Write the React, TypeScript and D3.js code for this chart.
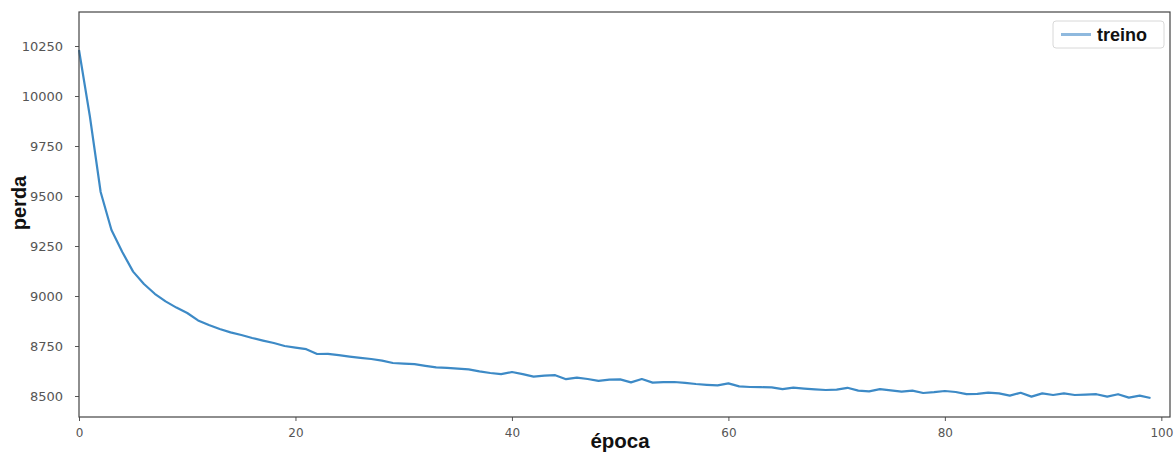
import React, { useEffect, useRef } from "react";
import * as d3 from "d3";

// training loss per epoch
const epochs = d3.range(0, 100);
const treino = [
  10230, 9900, 9520, 9330, 9220, 9122, 9060, 9011, 8973, 8942,
  8915, 8878, 8855, 8835, 8818, 8805, 8790, 8777, 8765, 8750,
  8742, 8734, 8710, 8711, 8704, 8697, 8691, 8685, 8677, 8665,
  8662, 8659, 8651, 8643, 8641, 8637, 8633, 8623, 8615, 8609,
  8620, 8609, 8597, 8602, 8604, 8584, 8592, 8585, 8576, 8582,
  8583, 8568, 8585, 8567, 8569, 8570, 8566, 8560, 8556, 8553,
  8563, 8548, 8545, 8544, 8543, 8534, 8542, 8537, 8533, 8530,
  8532, 8541, 8527, 8523, 8534, 8528, 8522, 8527, 8515, 8519,
  8525, 8520, 8509, 8511, 8517, 8513, 8502, 8516, 8497, 8513,
  8505, 8513, 8505, 8507, 8509, 8497, 8509, 8492, 8502, 8490,
];
const xTicks = [0, 20, 40, 60, 80, 100];
const yTicks = [8500, 8750, 9000, 9250, 9500, 9750, 10000, 10250];
const legendLabel = "treino";

export default function App() {
  const ref = useRef<SVGSVGElement>(null);

  useEffect(() => {
    const svg = d3.select(ref.current);
    svg.selectAll("*").remove();

    const margin = { top: 12, right: 6, bottom: 35, left: 79 };
    const width = 1176, height = 452;

    const x = d3.scaleLinear().domain([0, 100.8]).range([margin.left, width - margin.right]);
    const y = d3.scaleLinear().domain([8395, 10420]).range([height - margin.bottom, margin.top]);

    const g = svg.append("g");

    // line
    const line = d3
      .line<number>()
      .x((d, i) => x(epochs[i]))
      .y((d) => y(d));
    g.append("path")
      .datum(treino)
      .attr("fill", "none")
      .attr("stroke", "#3d8ac6")
      .attr("stroke-width", 2.2)
      .attr("stroke-linejoin", "round")
      .attr("d", line);

    // axes
    const xAxis = g
      .append("g")
      .attr("transform", `translate(0, ${height - margin.bottom})`)
      .call(d3.axisBottom(x).tickValues(xTicks).tickSize(4).tickPadding(7));
    xAxis.select(".domain").remove();
    xAxis.selectAll("text").attr("font-size", 12).attr("fill", "#555");

    const yAxis = g
      .append("g")
      .attr("transform", `translate(${margin.left}, 0)`)
      .call(d3.axisLeft(y).tickValues(yTicks).tickSize(4).tickPadding(12).tickFormat(d3.format("d")));
    yAxis.select(".domain").remove();
    yAxis.selectAll("text").attr("font-size", 13).attr("fill", "#555");

    g.selectAll(".tick line").attr("stroke", "#555");
    g.selectAll(".tick text").attr("font-family", "DejaVu Sans, sans-serif");

    // frame
    g.append("rect")
      .attr("x", margin.left)
      .attr("y", margin.top)
      .attr("width", width - margin.left - margin.right)
      .attr("height", height - margin.top - margin.bottom)
      .attr("fill", "none")
      .attr("stroke", "#444")
      .attr("stroke-width", 1.2);

    // axis labels
    g.append("text")
      .attr("x", 620)
      .attr("y", 448)
      .attr("text-anchor", "middle")
      .attr("font-family", "Liberation Sans, Arial, sans-serif")
      .attr("font-weight", "bold")
      .attr("font-size", 20.5)
      .attr("fill", "#111")
      .text("época");

    g.append("text")
      .attr("transform", `translate(26, 203) rotate(-90)`)
      .attr("text-anchor", "middle")
      .attr("font-family", "Liberation Sans, Arial, sans-serif")
      .attr("font-weight", "bold")
      .attr("font-size", 20)
      .attr("fill", "#111")
      .text("perda");

    // legend
    const leg = g.append("g").attr("transform", "translate(1053, 21)");
    leg.append("rect")
      .attr("width", 111)
      .attr("height", 27)
      .attr("rx", 3)
      .attr("fill", "white")
      .attr("stroke", "#d8d8d8");
    leg.append("line")
      .attr("x1", 8)
      .attr("x2", 38)
      .attr("y1", 13.5)
      .attr("y2", 13.5)
      .attr("stroke", "#8fb9de")
      .attr("stroke-width", 3);
    leg.append("text")
      .attr("x", 44)
      .attr("y", 19.5)
      .attr("font-family", "Liberation Sans, Arial, sans-serif")
      .attr("font-weight", "bold")
      .attr("font-size", 18)
      .attr("fill", "#111")
      .text(legendLabel);
  }, []);

  return (
    <svg
      ref={ref}
      width={1176}
      height={452}
      style={{ position: "absolute", left: 0, top: 0, background: "white" }}
    />
  );
}
